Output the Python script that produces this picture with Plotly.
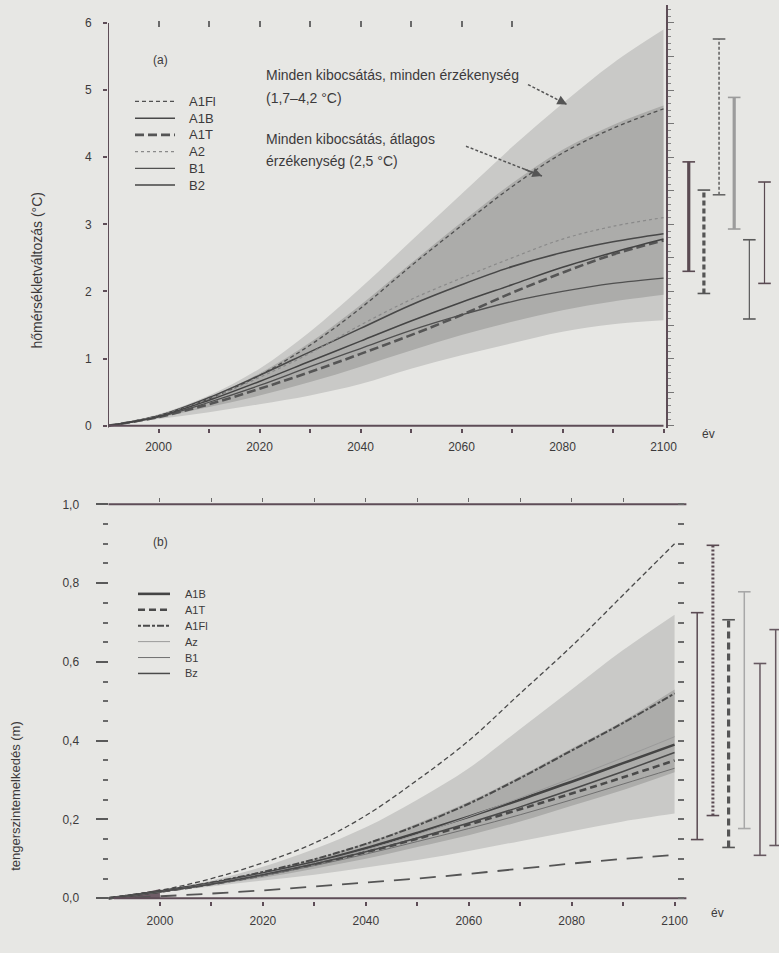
import plotly.graph_objects as go

# ---------------- data ----------------
years = [1990, 2000, 2010, 2020, 2030, 2040, 2050, 2060, 2070, 2080, 2090, 2100]

# panel (a): temperature change (°C)
a_outer_hi = [0, 0.17, 0.45, 0.85, 1.40, 2.05, 2.75, 3.45, 4.15, 4.80, 5.40, 5.90]
a_outer_lo = [0, 0.10, 0.20, 0.32, 0.45, 0.62, 0.85, 1.05, 1.23, 1.40, 1.51, 1.57]
a_inner_hi = [0, 0.16, 0.42, 0.78, 1.24, 1.80, 2.42, 3.03, 3.61, 4.11, 4.48, 4.77]
a_inner_lo = [0, 0.12, 0.28, 0.45, 0.65, 0.88, 1.12, 1.35, 1.55, 1.72, 1.85, 1.95]

a_names = ["A1FI", "A1B", "A1T", "A2", "B1", "B2"]
a_legend_text = ["A1Fl", "A1B", "A1T", "A2", "B1", "B2"]
a_series = {
    "A1FI": [0, 0.15, 0.40, 0.75, 1.20, 1.75, 2.38, 2.98, 3.56, 4.06, 4.43, 4.72],
    "A1B":  [0, 0.15, 0.42, 0.75, 1.10, 1.45, 1.80, 2.10, 2.37, 2.58, 2.74, 2.86],
    "A1T":  [0, 0.13, 0.32, 0.55, 0.80, 1.07, 1.35, 1.65, 1.98, 2.28, 2.55, 2.76],
    "A2":   [0, 0.15, 0.40, 0.72, 1.08, 1.50, 1.88, 2.20, 2.50, 2.78, 2.97, 3.10],
    "B1":   [0, 0.13, 0.35, 0.60, 0.88, 1.15, 1.42, 1.65, 1.85, 2.00, 2.12, 2.20],
    "B2":   [0, 0.14, 0.38, 0.66, 0.96, 1.26, 1.56, 1.84, 2.10, 2.36, 2.58, 2.78],
}
# ranges at 2100 (bars right of the plot), order as drawn
a_bar_names = ["A1B", "A1T", "A1FI", "A2", "B1", "B2"]
a_bar_lo = [2.30, 1.97, 3.44, 2.93, 1.59, 2.12]
a_bar_hi = [3.93, 3.51, 5.76, 4.89, 2.77, 3.63]

a_yticks = [0, 1, 2, 3, 4, 5, 6]
a_yticktext = ["0", "1", "2", "3", "4", "5", "6"]

# panel (b): sea level rise (m)
b_env_hi = [0, 0.020, 0.050, 0.090, 0.140, 0.210, 0.300, 0.400, 0.520, 0.640, 0.770, 0.900]
b_env_lo = [0, 0.005, 0.012, 0.020, 0.030, 0.040, 0.050, 0.062, 0.075, 0.088, 0.100, 0.110]
b_light_hi = [0, 0.020, 0.045, 0.080, 0.125, 0.180, 0.250, 0.330, 0.430, 0.530, 0.630, 0.720]
b_light_lo = [0, 0.015, 0.030, 0.045, 0.060, 0.078, 0.097, 0.120, 0.145, 0.170, 0.195, 0.215]
b_dark_hi = [0, 0.018, 0.040, 0.068, 0.100, 0.140, 0.190, 0.245, 0.310, 0.380, 0.450, 0.530]
b_dark_lo = [0, 0.016, 0.033, 0.052, 0.075, 0.100, 0.130, 0.160, 0.195, 0.235, 0.275, 0.320]

b_names = ["A1B", "A1T", "A1FI", "A2", "B1", "B2"]
b_legend_text = ["A1B", "A1T", "A1Fl", "Az", "B1", "Bz"]
b_series = {
    "A1B":  [0, 0.017, 0.038, 0.063, 0.092, 0.127, 0.166, 0.207, 0.250, 0.296, 0.343, 0.390],
    "A1T":  [0, 0.017, 0.036, 0.059, 0.086, 0.117, 0.151, 0.187, 0.226, 0.266, 0.307, 0.350],
    "A1FI": [0, 0.018, 0.040, 0.067, 0.099, 0.138, 0.185, 0.240, 0.305, 0.375, 0.445, 0.520],
    "A2":   [0, 0.017, 0.037, 0.062, 0.090, 0.123, 0.162, 0.207, 0.255, 0.305, 0.357, 0.410],
    "B1":   [0, 0.016, 0.035, 0.057, 0.083, 0.112, 0.144, 0.177, 0.212, 0.250, 0.290, 0.330],
    "B2":   [0, 0.017, 0.036, 0.060, 0.087, 0.118, 0.153, 0.191, 0.232, 0.276, 0.322, 0.370],
}
hist_years = [1990, 1995, 2000]
hist_sl = [0, 0.008, 0.022]

b_bar_names = ["A1B", "A1T", "A1FI", "A2", "B1", "B2"]
b_bar_lo = [0.149, 0.210, 0.129, 0.177, 0.109, 0.134]
b_bar_hi = [0.725, 0.896, 0.707, 0.778, 0.596, 0.682]

b_yticks = [0, 0.2, 0.4, 0.6, 0.8, 1.0]
b_yticktext = ["0,0", "0,2", "0,4", "0,6", "0,8", "1,0"]

x_label_vals = [2000, 2020, 2040, 2060, 2080, 2100]
x_tick_vals = [2000, 2010, 2020, 2030, 2040, 2050, 2060, 2070, 2080, 2090, 2100]

# ---------------- styles ----------------
W, H = 779, 953
BG = "#e7e7e4"
AX = "#5e4d57"
TXT = "#3c3a3b"
LIGHT = "#c9c9c7"
DARK = "#acacaa"
FONT = "Liberation Sans, Arial, sans-serif"


def px_x(p):
    return p / W


def px_y(p):
    return 1 - p / H


a_style = {
    "A1FI": dict(color="#505050", width=1.3, dash="4px,3px"),
    "A1B": dict(color="#484848", width=1.6, dash="solid"),
    "A1T": dict(color="#555555", width=2.6, dash="9px,4px"),
    "A2": dict(color="#8a8a8a", width=1.2, dash="dot"),
    "B1": dict(color="#505050", width=1.3, dash="solid"),
    "B2": dict(color="#444444", width=1.5, dash="solid"),
}
b_style = {
    "A1B": dict(color="#444444", width=2.6, dash="solid"),
    "A1T": dict(color="#4a4a4a", width=2.6, dash="7px,4px"),
    "A1FI": dict(color="#4a4a4a", width=2.0, dash="3px,2px,7px,2px"),
    "A2": dict(color="#9a9a9a", width=1.0, dash="solid"),
    "B1": dict(color="#707070", width=1.0, dash="solid"),
    "B2": dict(color="#4a4a4a", width=1.5, dash="solid"),
}
a_bar_style = [
    dict(color="#5a4a52", width=3.2, dash="solid"),
    dict(color="#555555", width=3.2, dash="5px,3px"),
    dict(color="#666666", width=1.6, dash="3px,2px"),
    dict(color="#9c9c9c", width=3.2, dash="solid"),
    dict(color="#5a5a5a", width=1.2, dash="solid"),
    dict(color="#5a4a52", width=1.2, dash="solid"),
]
b_bar_style = [
    dict(color="#5a4a52", width=1.5, dash="solid"),
    dict(color="#5a4a52", width=3.0, dash="2px,2px"),
    dict(color="#555555", width=3.2, dash="7px,4px"),
    dict(color="#a8a8a8", width=1.5, dash="solid"),
    dict(color="#665860", width=1.5, dash="solid"),
    dict(color="#665860", width=1.5, dash="solid"),
]

fig = go.Figure()


def band(xs, hi, lo, color, xa, ya):
    fig.add_trace(go.Scatter(x=xs, y=lo, mode="lines", line=dict(width=0),
                             line_shape="spline", hoverinfo="skip", showlegend=False,
                             xaxis=xa, yaxis=ya))
    fig.add_trace(go.Scatter(x=xs, y=hi, mode="lines", line=dict(width=0),
                             fill="tonexty", fillcolor=color,
                             line_shape="spline", hoverinfo="skip", showlegend=False,
                             xaxis=xa, yaxis=ya))


# ---- panel (a) ----
band(years, a_outer_hi, a_outer_lo, LIGHT, "x", "y")
band(years, a_inner_hi, a_inner_lo, DARK, "x", "y")
for i, n in enumerate(a_names):
    fig.add_trace(go.Scatter(
        x=years, y=a_series[n], mode="lines", line=a_style[n], line_shape="spline",
        name=a_legend_text[i], showlegend=False, xaxis="x", yaxis="y"))

# frame lines (a)
fig.add_trace(go.Scatter(x=[years[0], years[0]], y=[-0.03, a_yticks[-1]], mode="lines",
                         line=dict(color=AX, width=2), showlegend=False, hoverinfo="skip",
                         xaxis="x", yaxis="y"))
fig.add_trace(go.Scatter(x=[years[0] - 1, years[-1]], y=[0, 0], mode="lines",
                         line=dict(color=AX, width=2), showlegend=False, hoverinfo="skip",
                         xaxis="x", yaxis="y"))

# range bars (a)
for i, n in enumerate(a_bar_names):
    xb = years[-1] + 5 + 3.0 * i
    fig.add_trace(go.Scatter(x=[xb, xb], y=[a_bar_lo[i], a_bar_hi[i]], mode="lines",
                             line=a_bar_style[i], showlegend=False, hoverinfo="skip",
                             xaxis="x", yaxis="y"))
    fig.add_trace(go.Scatter(x=[xb, xb], y=[a_bar_lo[i], a_bar_hi[i]], mode="markers",
                             marker=dict(symbol="line-ew", size=9,
                                         line=dict(color=a_bar_style[i]["color"], width=1.6)),
                             showlegend=False, hoverinfo="skip", cliponaxis=False,
                             xaxis="x", yaxis="y"))

# ---- panel (b) ----
band(years, b_light_hi, b_light_lo, LIGHT, "x2", "y2")
band(years, b_dark_hi, b_dark_lo, DARK, "x2", "y2")
fig.add_trace(go.Scatter(x=hist_years, y=hist_sl, fill="tozeroy", fillcolor="#6e5c66",
                         mode="lines", line=dict(color="#6e5c66", width=1),
                         showlegend=False, hoverinfo="skip", xaxis="x2", yaxis="y2"))
fig.add_trace(go.Scatter(x=years, y=b_env_hi, mode="lines", line_shape="spline",
                         line=dict(color="#4a4a4a", width=1.3, dash="5px,3px"),
                         showlegend=False, hoverinfo="skip", xaxis="x2", yaxis="y2"))
fig.add_trace(go.Scatter(x=years, y=b_env_lo, mode="lines", line_shape="spline",
                         line=dict(color="#555555", width=1.8, dash="16px,10px"),
                         showlegend=False, hoverinfo="skip", xaxis="x2", yaxis="y2"))
for i, n in enumerate(b_names):
    fig.add_trace(go.Scatter(
        x=years, y=b_series[n], mode="lines", line=b_style[n], line_shape="spline",
        name=b_legend_text[i], showlegend=False, xaxis="x2", yaxis="y2"))

# frame lines (b)
fig.add_trace(go.Scatter(x=[years[0] - 2.5, years[-1] + 2.3], y=[b_yticks[-1], b_yticks[-1]],
                         mode="lines", line=dict(color=AX, width=2), showlegend=False,
                         hoverinfo="skip", xaxis="x2", yaxis="y2"))
fig.add_trace(go.Scatter(x=[years[0] + 1, years[-1] + 2.3], y=[0, 0],
                         mode="lines", line=dict(color=AX, width=2), showlegend=False,
                         hoverinfo="skip", xaxis="x2", yaxis="y2"))

for i, n in enumerate(b_bar_names):
    xb = years[-1] + 4.4 + 3.05 * i
    fig.add_trace(go.Scatter(x=[xb, xb], y=[b_bar_lo[i], b_bar_hi[i]], mode="lines",
                             line=b_bar_style[i], showlegend=False, hoverinfo="skip",
                             xaxis="x2", yaxis="y2"))
    fig.add_trace(go.Scatter(x=[xb, xb], y=[b_bar_lo[i], b_bar_hi[i]], mode="markers",
                             marker=dict(symbol="line-ew", size=9,
                                         line=dict(color=b_bar_style[i]["color"], width=1.6)),
                             showlegend=False, hoverinfo="skip", cliponaxis=False,
                             xaxis="x2", yaxis="y2"))

# dummy traces so overlay axes get drawn
for xa, ya in [("x3", "y"), ("x", "y3"), ("x4", "y2"), ("x2", "y4")]:
    fig.add_trace(go.Scatter(x=[2000], y=[0], mode="markers", marker=dict(opacity=0),
                             showlegend=False, hoverinfo="skip", xaxis=xa, yaxis=ya))

# ---------------- axes ----------------
a_x0, a_ppy = 108, 5.05
a_xr = [1990, 1990 + (W - a_x0) / a_ppy]
a_y0, a_ppu = 428, 67.5
a_top, a_bot = 5, 430
a_yr = [(a_y0 - a_bot) / a_ppu, (a_y0 - a_top) / a_ppu]
b_x0, b_ppy = 108.5, 5.146
b_xr = [1990, 1990 + (W - b_x0) / b_ppy]
b_y0, b_ppu = 903, 396
b_top, b_bot = 490, 906
b_yr = [(b_y0 - b_bot) / b_ppu, (b_y0 - b_top) / b_ppu]

tickfont = dict(family=FONT, size=12, color=TXT)
xlabels = [str(v) if v in x_label_vals else "" for v in x_tick_vals]

common_x = dict(showgrid=False, zeroline=False, showline=False, ticks="outside",
                tickcolor=AX, tickwidth=1.5, ticklen=4, tickfont=tickfont,
                tickvals=x_tick_vals, ticktext=xlabels, ticklabelstandoff=4)

fig.update_layout(
    width=W, height=H, margin=dict(l=0, r=0, t=0, b=0),
    paper_bgcolor=BG, plot_bgcolor=BG,
    font=dict(family=FONT, color=TXT), showlegend=False,
    xaxis=dict(domain=[px_x(a_x0), 1], range=a_xr, anchor="y", **common_x),
    yaxis=dict(domain=[px_y(a_bot), px_y(a_top)], range=a_yr, anchor="x",
               showgrid=False, zeroline=False, showline=False, ticks="outside",
               tickcolor=AX, tickwidth=1.5, ticklen=4, tickvals=a_yticks,
               ticktext=a_yticktext, tickfont=tickfont, ticklabelstandoff=9),
    xaxis3=dict(overlaying="x", anchor="free", position=px_y(27), side="top",
                range=a_xr, showgrid=False, zeroline=False, showline=False,
                ticks="outside", ticklen=6, tickwidth=1.5, tickcolor="#6a6a6a",
                tickvals=x_tick_vals[:8], showticklabels=False),
    yaxis3=dict(overlaying="y", anchor="free", position=px_x(667), side="right",
                range=a_yr, showgrid=False, zeroline=False, showline=True,
                linecolor=AX, linewidth=2, ticks="outside", ticklen=6, tickwidth=1.2,
                tickcolor="#777777", dtick=0.5, tick0=0, showticklabels=False,
                minor=dict(ticks="outside", ticklen=3, dtick=0.1, tickcolor="#888888",
                           tickwidth=1)),
    xaxis2=dict(domain=[px_x(b_x0), 1], range=b_xr, anchor="y2", **common_x),
    yaxis2=dict(domain=[px_y(b_bot), px_y(b_top)], range=b_yr, anchor="x2",
                showgrid=False, zeroline=False, showline=False, ticks="outside",
                tickcolor="#5a5a5a", tickwidth=2, ticklen=12, tickvals=b_yticks,
                ticktext=b_yticktext, tickfont=tickfont, ticklabelstandoff=14,
                minor=dict(ticks="outside", ticklen=5, dtick=0.05, tickcolor="#6a6a6a",
                           tickwidth=2)),
    xaxis4=dict(overlaying="x2", anchor="free", position=px_y(505), side="top",
                range=b_xr, showgrid=False, zeroline=False, showline=False,
                ticks="outside", ticklen=4, tickwidth=1.2, tickcolor="#6a6a6a",
                tickvals=x_tick_vals[:10], showticklabels=False),
    yaxis4=dict(overlaying="y2", anchor="free", position=px_x(677), side="right",
                range=b_yr, showgrid=False, zeroline=False, showline=False,
                ticks="outside", ticklen=6, tickwidth=2, tickcolor="#6a6a6a",
                dtick=0.05, tick0=0, showticklabels=False),
)


def note(text, x, y, size=12, xanchor="left"):
    fig.add_annotation(text=text, x=px_x(x), y=px_y(y), xref="paper", yref="paper",
                       showarrow=False, xanchor=xanchor, yanchor="middle",
                       font=dict(family=FONT, size=size, color=TXT))


# manual legends (keys + labels)
def legend_block(names, labels, styles, x0, x1, xt, ytop, step, size):
    for i, n in enumerate(names):
        yy = ytop + step * i
        st = styles[n]
        fig.add_shape(type="line", xref="paper", yref="paper",
                      x0=px_x(x0), x1=px_x(x1), y0=px_y(yy), y1=px_y(yy),
                      line=dict(color=st["color"], width=st["width"], dash=st["dash"]))
        note(labels[i], xt, yy, size)


legend_block(a_names, a_legend_text, a_style, 135, 175, 187, 102, 16.8, 13)
legend_block(b_names, b_legend_text, b_style, 138, 170, 183, 597, 16.0, 11)

note("(a)", 160, 60, 12, "center")
note("(b)", 160, 545, 12, "center")
note("Minden kibocsátás, minden érzékenység", 264, 75, 14)
note("(1,7–4,2 °C)", 264, 99, 14)
note("Minden kibocsátás, átlagos", 264, 140, 14)
note("érzékenység (2,5 °C)", 264, 162, 14)
note("év", 708, 436, 12, "center")
note("év", 717, 918, 12, "center")

# y axis titles
fig.add_annotation(text="hőmérsékletváltozás (°C)", x=px_x(37), y=px_y(272),
                   xref="paper", yref="paper", showarrow=False, textangle=-90,
                   xanchor="center", yanchor="middle",
                   font=dict(family=FONT, size=14, color=TXT))
fig.add_annotation(text="tengerszintemelkedés (m)", x=px_x(16), y=px_y(800),
                   xref="paper", yref="paper", showarrow=False, textangle=-90,
                   xanchor="center", yanchor="middle",
                   font=dict(family=FONT, size=13, color=TXT))

# dashed arrows
for (x0, y0, x1, y1) in [(528, 85, 567, 105), (466, 147, 542, 177)]:
    fig.add_shape(type="line", xref="paper", yref="paper",
                  x0=px_x(x0), y0=px_y(y0), x1=px_x(x1), y1=px_y(y1),
                  line=dict(color="#555555", width=1.5, dash="3px,2px"))
    fig.add_annotation(x=px_x(x1), y=px_y(y1), xref="paper", yref="paper", text="",
                       showarrow=True, axref="pixel", ayref="pixel",
                       ax=-(x1 - x0) * 0.25, ay=-(y1 - y0) * 0.25,
                       arrowhead=2, arrowsize=1.2, arrowwidth=1.6, arrowcolor="#555555")

fig.write_html("out.html",
               config={"displayModeBar": False},
               post_script="document.body.style.margin='0';"
                           "document.body.style.overflow='hidden';")
